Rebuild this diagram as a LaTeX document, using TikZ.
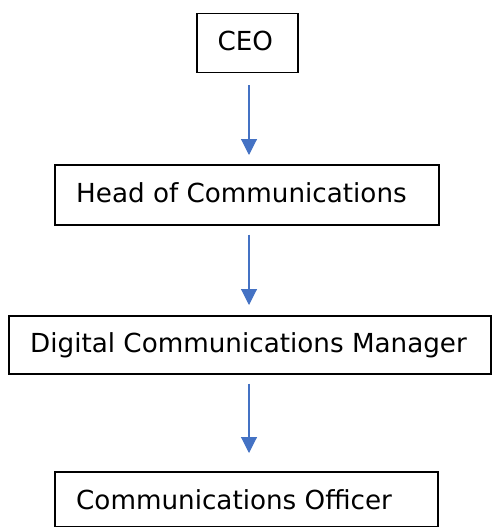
\documentclass[tikz,border=0pt]{standalone}
\usepackage{fontspec}
\setmainfont{DejaVu Sans}
\usetikzlibrary{arrows.meta}
\definecolor{arrowblue}{RGB}{68,114,196}
\begin{document}
\begin{tikzpicture}[x=1pt,y=-1pt,
  box/.style={draw=black,line width=1.7pt,rectangle,inner sep=0pt,anchor=north west},
  lbl/.style={font=\fontsize{26.2pt}{30pt}\selectfont,inner sep=0pt,anchor=base west,text=black},
  arr/.style={draw=arrowblue,line width=1.1pt,-{Triangle[length=16pt,width=16pt]}}]
\useasboundingbox (0,0) rectangle (491,527);
% boxes
\node[box,minimum width=101pt,minimum height=59pt] (ceo) at (196,12.7) {};
\node[box,minimum width=384pt,minimum height=60pt] (head) at (54,164) {};
\node[box,minimum width=482pt,minimum height=58pt] (dig) at (8,315) {};
\node[box,minimum width=383pt,minimum height=54.5pt] (off) at (54,471) {};
% labels
\node[lbl] (ceot) at ([xshift=21.3pt,yshift=-37.5pt]ceo.north west) {CEO};
\node[lbl] (headt) at ([xshift=22pt,yshift=-38pt]head.north west) {Head of Communications};
\node[lbl] (digt) at ([xshift=22pt,yshift=-37.7pt]dig.north west) {Digital Communications Manager};
\node[lbl] (offt) at ([xshift=22pt,yshift=-38.3pt]off.north west) {Communications Officer};
% arrow axis
\coordinate (ax) at (249,0);
\draw[arr,shorten <=12pt,shorten >=9pt] (ceo.south -| ax) -- (head.north -| ax);
\draw[arr,shorten <=9pt,shorten >=10pt] (head.south -| ax) -- (dig.north -| ax);
\draw[arr,shorten <=9pt,shorten >=18pt] (dig.south -| ax) -- (off.north -| ax);
\end{tikzpicture}
\end{document}
